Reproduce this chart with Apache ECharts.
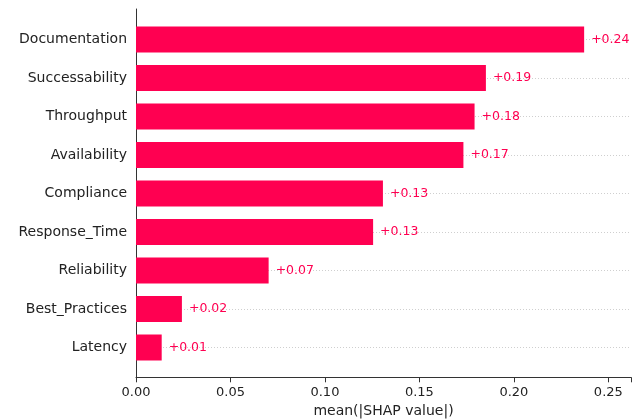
<!DOCTYPE html>
<html>
<head>
<meta charset="utf-8">
<script src="https://cdn.jsdelivr.net/npm/echarts@6/dist/echarts.min.js"></script>
<style>html,body{margin:0;padding:0;background:#fff;}#c{width:638px;height:419px;}</style>
</head>
<body>
<div id="c"></div>
<script>
const features = ["Documentation","Successability","Throughput","Availability","Compliance","Response_Time","Reliability","Best_Practices","Latency"];
const meanAbsShap = [0.2372,0.1852,0.1792,0.1733,0.1307,0.1255,0.0702,0.0243,0.0136];
const xTicks = [0.00,0.05,0.10,0.15,0.20,0.25];
const xMax = 0.262;
const xLabel = "mean(|SHAP value|)";

const font = "DejaVu Sans";
const red = "#ff0051";
const chart = echarts.init(document.getElementById('c'), null, {renderer:'canvas'});
chart.setOption({
  animation:false,
  textStyle:{fontFamily:font},
  grid:[
    {left:136, right:7, top:20.25, height:346.5, outerBoundsMode:'none', containLabel:false},
    {left:136, right:7, top:9, height:368.3, outerBoundsMode:'none', containLabel:false},
    {left:136, right:7, top:39.5, height:308, outerBoundsMode:'none', containLabel:false}
  ],
  xAxis:[
    {gridIndex:0, type:'value', min:0, max:xMax, show:false},
    {gridIndex:1, type:'value', min:0, max:xMax, interval:0.05,
     axisLine:{show:true, lineStyle:{color:'#333', width:1}},
     axisTick:{show:true, length:5, lineStyle:{color:'#333'}},
     axisLabel:{margin:9, fontSize:13, color:'#222', fontFamily:font,
       formatter:v=>{const t=xTicks.find(x=>Math.abs(x-v)<1e-9); return t===undefined?'':t.toFixed(2);}},
     splitLine:{show:false},
     name:xLabel, nameLocation:'middle', nameGap:23,
     nameTextStyle:{fontSize:14, color:'#222', fontFamily:font}},
    {gridIndex:2, type:'value', min:0, max:xMax, show:false}
  ],
  yAxis:[
    {gridIndex:0, type:'category', data:features, inverse:true,
     axisLine:{show:false}, axisTick:{show:false},
     axisLabel:{margin:9, fontSize:14, color:'#222', fontFamily:font},
     splitLine:{show:false}},
    {gridIndex:1, type:'value', min:0, max:1,
     axisLine:{show:true, lineStyle:{color:'#333', width:1}},
     axisTick:{show:false}, axisLabel:{show:false}, splitLine:{show:false}},
    {gridIndex:2, type:'category', data:features, inverse:true, boundaryGap:false,
     axisLine:{show:false}, axisTick:{show:false}, axisLabel:{show:false},
     splitLine:{show:true, interval:0, lineStyle:{type:[1,2], color:'#cfcfcf', width:1}}}
  ],
  series:[
    {type:'bar', xAxisIndex:0, yAxisIndex:0, data:meanAbsShap, barWidth:26, z:2,
     itemStyle:{color:red},
     label:{show:true, position:'right', distance:7, color:red, fontSize:12.5, fontFamily:font,
       formatter:p=>'+'+p.value.toFixed(2)}}
  ]
});
</script>
</body>
</html>
